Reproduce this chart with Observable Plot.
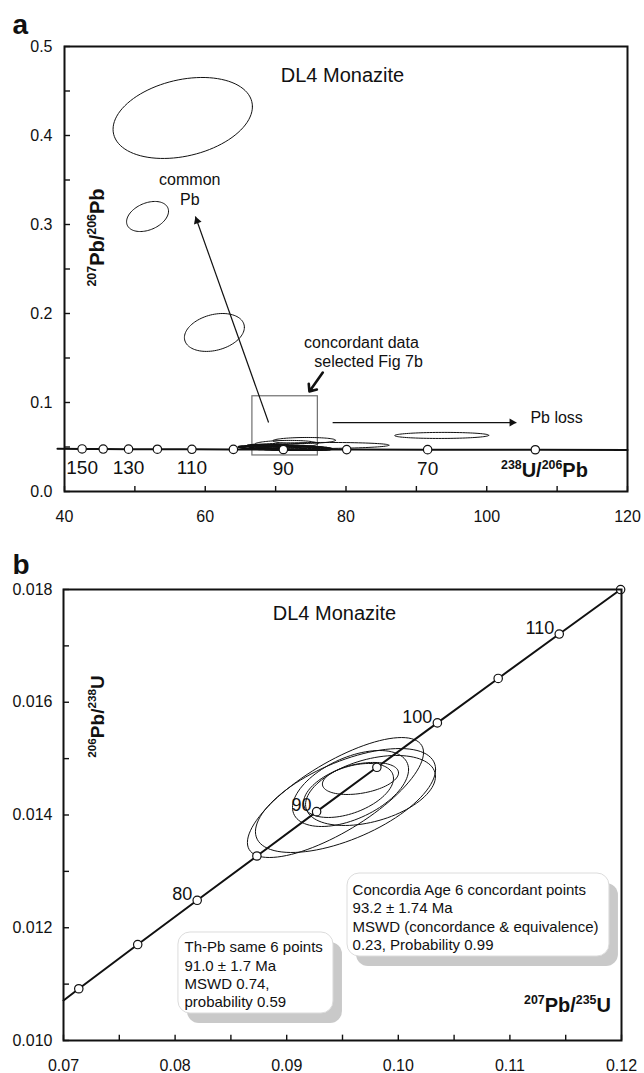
<!DOCTYPE html>
<html>
<head>
<meta charset="utf-8">
<script src="https://cdn.jsdelivr.net/npm/d3@7"></script>
<script src="https://cdn.jsdelivr.net/npm/@observablehq/plot@0.6"></script>
<style>
  html, body { margin: 0; padding: 0; background: #fff; }
  #fig { position: relative; width: 644px; height: 1073px; overflow: hidden; background: #fff; }
  #fig .panel { position: absolute; left: 0; }
</style>
</head>
<body>
<div id="fig"></div>
<script>
const FONT = '"Liberation Sans", Arial, Helvetica, sans-serif';

// ---------- Panel a: Tera–Wasserburg diagram ----------
// concordia age marks (Ma) and their ratios
const twAges = [150, 140, 130, 120, 110, 100, 90, 80, 70, 60];
const twU238Pb206 = [42.5, 45.5, 49.1, 53.2, 58.1, 64.0, 71.1, 80.1, 91.6, 106.9];
const twPb207Pb206 = [0.0478, 0.0477, 0.0476, 0.0475, 0.0474, 0.0473, 0.0472, 0.0471, 0.0470, 0.0469];
const twLabelledAges = [150, 130, 110, 90, 70];
// concordia curve continues to the plot edges
const twEndX = [39.0, 120];
const twEndY = [0.0479, 0.0467];

// discordant / common-Pb spots: centre, half-widths and error correlation
const twCx  = [56.8, 51.8, 61.3, 93.6, 74.05, 71.5, 76.4];
const twCy  = [0.4197, 0.309, 0.1787, 0.063, 0.0573, 0.0534, 0.0517];
const twSx  = [9.9, 2.98, 4.26, 6.68, 4.45, 4.5, 9.7];
const twSy  = [0.0455, 0.0169, 0.0213, 0.0034, 0.0034, 0.0040, 0.0034];
const twRho = [0.28, 0.35, 0.27, 0.05, 0.1, 0.1, 0.1];
// the six concordant spots
const twcCx  = [71.0, 70.5, 72.0, 69.5, 71.5, 73.0];
const twcCy  = [0.0494, 0.0490, 0.0498, 0.0488, 0.0486, 0.0492];
const twcSx  = [5.2, 5.8, 6.0, 4.8, 6.4, 5.0];
const twcSy  = [0.0030, 0.0026, 0.0032, 0.0024, 0.0022, 0.0028];
const twcRho = [-0.55, -0.5, -0.6, -0.45, -0.4, -0.5];

// selection box around the concordant data
const selBoxX = [66.7, 76.0];
const selBoxY = [0.0405, 0.107];

// arrows: [x1, y1, x2, y2]
const commonPbArrow = [69.0, 0.0775, 58.6, 0.309];
const pbLossArrow = [78.1, 0.0775, 104.2, 0.0775];
const selectArrow = [76.7, 0.1337, 74.8, 0.1124];

// annotations
const twNotes = ["DL4 Monazite", "common\nPb", "concordant data", "selected Fig 7b", "Pb loss", "{238}U/{206}Pb", "{207}Pb/{206}Pb"];
const twNoteX = [79.5, 57.8, 82.2, 83.2, 106.2, 108.2, 44.7];
const twNoteY = [0.4674, 0.3404, 0.1685, 0.1472, 0.0831, 0.0236, 0.2854];

// axis ticks
const twXTicks = [40, 50, 60, 70, 80, 90, 100, 110, 120];
const twXLabels = [40, 60, 80, 100, 120];
const twYTicks = [0, 0.05, 0.1, 0.15, 0.2, 0.25, 0.3, 0.35, 0.4, 0.45, 0.5];
const twYLabels = [0, 0.1, 0.2, 0.3, 0.4, 0.5];

// ---------- Panel b: Wetherill concordia ----------
const wAges = [70, 75, 80, 85, 90, 95, 100, 105, 110, 115];
const wPb207U235 = [0.07137, 0.07665, 0.08198, 0.08733, 0.09268, 0.09808, 0.10350, 0.10895, 0.11442, 0.11992];
const wPb206U238 = [0.010918, 0.011702, 0.012487, 0.013273, 0.014059, 0.014846, 0.015634, 0.016422, 0.017210, 0.017999];
const wLabelledAges = [80, 90, 100, 110];
const wStartX = [0.0700];
const wStartY = [0.01071];

// the six concordant analyses
const wCx  = [0.09661, 0.09554, 0.09572, 0.09437, 0.09527, 0.09751];
const wCy  = [0.014648, 0.014435, 0.014470, 0.014310, 0.014257, 0.014435];
const wSx  = [0.00341, 0.00403, 0.00520, 0.00789, 0.00807, 0.00582];
const wSy  = [0.000284, 0.000479, 0.000674, 0.001064, 0.000922, 0.000621];
const wRho = [0.35, 0.45, 0.5, 0.75, 0.6, 0.4];

// result boxes
const boxText = [
  "Th-Pb same 6 points\n91.0 \u00b1 1.7 Ma\nMSWD 0.74,\nprobability 0.59",
  "Concordia Age 6 concordant points\n93.2 \u00b1 1.74 Ma\nMSWD (concordance & equivalence)\n0.23, Probability 0.99"
];
const boxX1 = [0.08030, 0.09545];
const boxX2 = [0.09419, 0.11892];
const boxY1 = [0.010479, 0.011490];
const boxY2 = [0.011916, 0.012962];
const boxTextX = [0.08084, 0.09590];
const boxTextY = [0.011792, 0.012812];

const wNotes = ["DL4 Monazite", "{207}Pb/{235}U", "{206}Pb/{238}U"];
const wNoteX = [0.09428, 0.11516, 0.07305];
const wNoteY = [0.017574, 0.010620, 0.015747];

const wXTicks = [0.07, 0.075, 0.08, 0.085, 0.09, 0.095, 0.10, 0.105, 0.11, 0.115, 0.12];
const wXLabels = [0.07, 0.08, 0.09, 0.10, 0.11, 0.12];
const wYTicks = [0.010, 0.011, 0.012, 0.013, 0.014, 0.015, 0.016, 0.017, 0.018];
const wYLabels = [0.010, 0.012, 0.014, 0.016, 0.018];

// ---------- helpers ----------
// outline of an error ellipse from its centre, half-widths and correlation
function ellipseRows(cx, cy, sx, sy, rho, n = 96) {
  const rows = [];
  cx.forEach((_, i) => {
    const s = Math.sqrt(1 - rho[i] * rho[i]);
    for (let k = 0; k <= n; k++) {
      const t = (2 * Math.PI * k) / n;
      rows.push({
        id: i,
        x: cx[i] + sx[i] * Math.cos(t),
        y: cy[i] + sy[i] * (rho[i] * Math.cos(t) + s * Math.sin(t))
      });
    }
  });
  return rows;
}

// turn {digits} into raised, smaller isotope mass numbers
function isotopeLabels(svg) {
  d3.select(svg).selectAll("text").each(function () {
    const s = this.textContent;
    if (!s.includes("{")) return;
    const fs = parseFloat(getComputedStyle(this).fontSize) || 20;
    const parts = s.match(/\{[^}]*\}|[^{]+/g);
    this.textContent = "";
    let raised = false;
    for (const p of parts) {
      const t = document.createElementNS("http://www.w3.org/2000/svg", "tspan");
      if (p[0] === "{") {
        t.textContent = p.slice(1, -1);
        t.setAttribute("font-size", (0.62 * fs) + "px");
        if (!raised) { t.setAttribute("dy", (-0.4 * fs) + "px"); raised = true; }
      } else {
        t.textContent = p;
        if (raised) { t.setAttribute("dy", (0.4 * fs) + "px"); raised = false; }
      }
      this.appendChild(t);
    }
  });
}

const idx = (arr) => d3.range(arr.length);

// ---------- panel a ----------
const twMarks = idx(twAges).map(i => ({age: twAges[i], x: twU238Pb206[i], y: twPb207Pb206[i]}));
const twLine = [{x: twEndX[0], y: twEndY[0]}, ...twMarks, {x: twEndX[1], y: twEndY[1]}];

const plotA = Plot.plot({
  width: 644,
  height: 535,
  marginLeft: 64,
  marginRight: 17,
  marginTop: 46,
  marginBottom: 44,
  style: {fontFamily: FONT, fontSize: "16px", color: "#111", background: "white"},
  x: {domain: [40, 120], label: null},
  y: {domain: [0, 0.5], label: null},
  marks: [
    // inward ticks
    Plot.ruleX(twXTicks, {x: d => d, y1: 0, y2: 0.0056, stroke: "#111", strokeWidth: 1.4}),
    Plot.ruleY(twYTicks, {y: d => d, x1: 40, x2: 40.85, stroke: "#111", strokeWidth: 1.4}),
    Plot.axisX(twXLabels, {tickSize: 0, tickPadding: 19, fontSize: 16, label: null, tickFormat: d => String(d)}),
    Plot.axisY(twYLabels, {tickSize: 0, tickPadding: 12, fontSize: 16, label: null, tickFormat: d3.format(".1f")}),
    // selection box
    Plot.rect([0], {x1: () => selBoxX[0], x2: () => selBoxX[1], y1: () => selBoxY[0], y2: () => selBoxY[1], fill: "none", stroke: "#6f6f6f", strokeWidth: 1.2}),
    // ellipses
    Plot.line(ellipseRows(twCx, twCy, twSx, twSy, twRho), {x: "x", y: "y", z: "id", stroke: "#111", strokeWidth: 1}),
    Plot.line(ellipseRows(twcCx, twcCy, twcSx, twcSy, twcRho), {x: "x", y: "y", z: "id", stroke: "#111", strokeWidth: 1.4}),
    // concordia
    Plot.line(twLine, {x: "x", y: "y", stroke: "#111", strokeWidth: 2}),
    Plot.dot(twMarks, {x: "x", y: "y", r: 4.2, fill: "white", stroke: "#111", strokeWidth: 1.2}),
    Plot.text(twMarks.filter(d => twLabelledAges.includes(d.age)), {x: "x", y: "y", text: d => String(d.age), dy: 19, fontSize: 19, fill: "#111"}),
    // arrows
    Plot.link([commonPbArrow, pbLossArrow], {x1: d => d[0], y1: d => d[1], x2: d => d[2], y2: d => d[3], stroke: "#111", strokeWidth: 1.2}),
    Plot.dot([commonPbArrow], {x: d => d[2], y: d => d[3], symbol: "triangle", r: 3, fill: "#111", stroke: "none", rotate: -19.5, dx: 1.6, dy: 4.4}),
    Plot.dot([pbLossArrow], {x: d => d[2], y: d => d[3], symbol: "triangle", r: 3, fill: "#111", stroke: "none", rotate: 90, dx: -4.4}),
    Plot.arrow([selectArrow], {x1: d => d[0], y1: d => d[1], x2: d => d[2], y2: d => d[3], stroke: "#111", strokeWidth: 2.6, headLength: 9, headAngle: 80}),
    // annotations
    Plot.text([0], {x: () => twNoteX[0], y: () => twNoteY[0], text: () => twNotes[0], fontSize: 20, fill: "#111"}),
    Plot.text([1, 2, 3], {x: i => twNoteX[i], y: i => twNoteY[i], text: i => twNotes[i], fontSize: 16, lineHeight: 1.25, fill: "#111"}),
    Plot.text([4], {x: i => twNoteX[i], y: i => twNoteY[i], text: i => twNotes[i], fontSize: 16, textAnchor: "start", fill: "#111"}),
    Plot.text([5], {x: i => twNoteX[i], y: i => twNoteY[i], text: i => twNotes[i], fontSize: 20, fontWeight: "bold", fill: "#111"}),
    Plot.text([6], {x: i => twNoteX[i], y: i => twNoteY[i], text: i => twNotes[i], fontSize: 20, fontWeight: "bold", rotate: -90, fill: "#111"}),
    // panel letter
    Plot.text(["a"], {frameAnchor: "top-left", text: d => d, dx: -52, dy: -13, textAnchor: "start", lineAnchor: "bottom", fontSize: 28, fontWeight: "bold", fill: "#111"}),
    Plot.frame({stroke: "#111", strokeWidth: 2})
  ]
});

// ---------- panel b ----------
const wMarks = idx(wAges).map(i => ({age: wAges[i], x: wPb207U235[i], y: wPb206U238[i]}));
const wLine = [{x: wStartX[0], y: wStartY[0]}, ...wMarks];

const plotB = Plot.plot({
  width: 644,
  height: 538,
  marginLeft: 63,
  marginRight: 23,
  marginTop: 54,
  marginBottom: 33,
  style: {fontFamily: FONT, fontSize: "16px", color: "#111", background: "white"},
  x: {domain: [0.07, 0.12], label: null},
  y: {domain: [0.010, 0.018], label: null},
  marks: [
    Plot.ruleX(wXTicks, {x: d => d, y1: 0.010, y2: 0.010095, stroke: "#111", strokeWidth: 1.4}),
    Plot.ruleY(wYTicks, {y: d => d, x1: 0.07, x2: 0.07054, stroke: "#111", strokeWidth: 1.4}),
    Plot.axisX(wXLabels, {tickSize: 0, tickPadding: 19, fontSize: 16, label: null, tickFormat: d3.format(".2f")}),
    Plot.axisY(wYLabels, {tickSize: 0, tickPadding: 11, fontSize: 16, label: null, tickFormat: d3.format(".3f")}),
    // result boxes with drop shadows
    Plot.rect(idx(boxText), {x1: i => boxX1[i], x2: i => boxX2[i], y1: i => boxY1[i], y2: i => boxY2[i], rx: 12, fill: "#c9c9c9", dx: 9, dy: 10}),
    Plot.rect(idx(boxText), {x1: i => boxX1[i], x2: i => boxX2[i], y1: i => boxY1[i], y2: i => boxY2[i], rx: 12, fill: "white", stroke: "#dcdcdc", strokeWidth: 1}),
    Plot.text(idx(boxText), {x: i => boxTextX[i], y: i => boxTextY[i], text: i => boxText[i], textAnchor: "start", lineAnchor: "top", lineHeight: 1.22, fontSize: 15, fill: "#111"}),
    // ellipses
    Plot.line(ellipseRows(wCx, wCy, wSx, wSy, wRho), {x: "x", y: "y", z: "id", stroke: "#111", strokeWidth: 1}),
    // concordia
    Plot.line(wLine, {x: "x", y: "y", stroke: "#111", strokeWidth: 2}),
    Plot.dot(wMarks, {x: "x", y: "y", r: 4.2, fill: "white", stroke: "#111", strokeWidth: 1.2}),
    Plot.text(wMarks.filter(d => wLabelledAges.includes(d.age)), {x: "x", y: "y", text: d => String(d.age), dx: -5, dy: -6, textAnchor: "end", fontSize: 18, fill: "#111"}),
    // annotations
    Plot.text([0], {x: i => wNoteX[i], y: i => wNoteY[i], text: i => wNotes[i], fontSize: 20, fill: "#111"}),
    Plot.text([1], {x: i => wNoteX[i], y: i => wNoteY[i], text: i => wNotes[i], fontSize: 20, fontWeight: "bold", fill: "#111"}),
    Plot.text([2], {x: i => wNoteX[i], y: i => wNoteY[i], text: i => wNotes[i], fontSize: 19, fontWeight: "bold", rotate: -90, fill: "#111"}),
    Plot.text(["b"], {frameAnchor: "top-left", text: d => d, dx: -51, dy: -16, textAnchor: "start", lineAnchor: "bottom", fontSize: 28, fontWeight: "bold", fill: "#111"}),
    Plot.frame({stroke: "#111", strokeWidth: 2})
  ]
});

const fig = document.getElementById("fig");
plotA.classList.add("panel");
plotA.style.top = "0px";
plotB.classList.add("panel");
plotB.style.top = "535px";
fig.appendChild(plotA);
fig.appendChild(plotB);
isotopeLabels(plotA);
isotopeLabels(plotB);
</script>
</body>
</html>
